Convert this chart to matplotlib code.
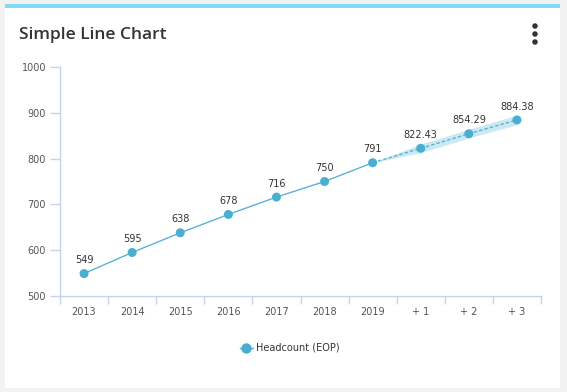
import numpy as np
import matplotlib.pyplot as plt
from matplotlib.patches import Rectangle, Ellipse
from matplotlib.lines import Line2D

# chart values
categories = ["2013", "2014", "2015", "2016", "2017", "2018", "2019", "+ 1", "+ 2", "+ 3"]
headcount = [549, 595, 638, 678, 716, 750, 791, 822.43, 854.29, 884.38]
labels = ["549", "595", "638", "678", "716", "750", "791", "822.43", "854.29", "884.38"]
n_actual = 7
band_low = [791, 813, 845, 874]
band_high = [791, 832, 864, 895]

W, H = 567, 392
LINE = "#5ab3d3"
DOT = "#4aaed0"
AXIS = "#c6d2ea"
TXT = "#555555"

fig = plt.figure(figsize=(W / 100, H / 100), dpi=100)
fig.patch.set_facecolor("#f2f2f2")

# card and cyan top bar
fig.patches.append(Rectangle((5 / W, 4 / H), 555 / W, 381 / H, transform=fig.transFigure,
                             facecolor="white", edgecolor="none", zorder=-2))
fig.patches.append(Rectangle((5 / W, (H - 8) / H), 555 / W, 4 / H, transform=fig.transFigure,
                             facecolor="#7fdcf2", edgecolor="none", zorder=-1))

fig.text(19 / W, 1 - 35 / H, "Simple Line Chart", fontsize=12.5, family="Open Sans",
         fontweight="semibold", color="#333333", va="center", ha="left")
# kebab menu
for dy in (-8, 0, 8):
    fig.patches.append(Ellipse((535 / W, 1 - (34 + dy) / H), 5.5 / W, 5.5 / H,
                               transform=fig.transFigure, facecolor="#333333", edgecolor="none"))

ax = fig.add_axes([60 / W, 1 - 296 / H, 481 / W, 229 / H])
ax.set_zorder(2)
ax.set_facecolor("none")
x = np.arange(len(categories))

# forecast band
xf = x[n_actual - 1:]
ax.fill_between(xf, band_low, band_high, color="#a9dbec", alpha=0.6, lw=0, zorder=1)

ax.plot(x[:n_actual], headcount[:n_actual], color=LINE, lw=1, zorder=2)
ax.plot(xf, headcount[n_actual - 1:], color=LINE, lw=1, ls=(0, (2.5, 1.5)), zorder=2)
ax.scatter(x, headcount, s=42, color=DOT, zorder=3, edgecolor="none")

for xi, yi, lab in zip(x, headcount, labels):
    ax.annotate(lab, (xi, yi), xytext=(0, 6), textcoords="offset points", ha="center",
                va="bottom", fontsize=7, color="#333333")

ax.set_xlim(-0.5, len(categories) - 0.5)
ax.set_ylim(500, 1000)
ax.set_yticks([500, 600, 700, 800, 900, 1000])
ax.set_xticks(x)
ax.set_xticklabels(categories)
ax.set_xticks(np.arange(len(categories) + 1) - 0.5, minor=True)
ax.tick_params(axis="x", which="major", length=0, pad=8, labelsize=7, labelcolor=TXT)
ax.tick_params(axis="x", which="minor", length=6, color=AXIS, width=1)
ax.tick_params(axis="y", length=7, color=AXIS, width=1, labelsize=7, labelcolor=TXT, pad=3)

for side in ("top", "right"):
    ax.spines[side].set_visible(False)
for side in ("left", "bottom"):
    ax.spines[side].set_color(AXIS)
    ax.spines[side].set_linewidth(1)

handle = Line2D([], [], color=LINE, lw=1, marker="o", markersize=6.5,
                markerfacecolor=DOT, markeredgecolor=DOT)
fig.legend([handle], ["Headcount (EOP)"], loc="center", bbox_to_anchor=(290 / W, 1 - 348 / H),
           frameon=False, fontsize=7, handlelength=1.3, handletextpad=0.4,
           labelcolor="#333333")

fig.savefig("out.png", dpi=100, facecolor=fig.get_facecolor())
